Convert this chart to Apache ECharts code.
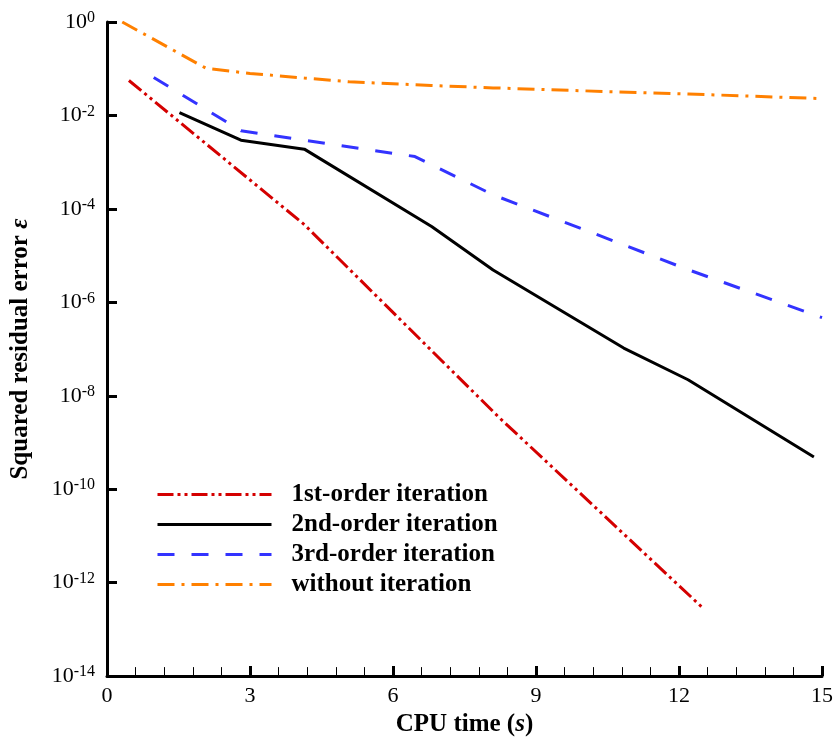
<!DOCTYPE html>
<html>
<head>
<meta charset="utf-8">
<script src="https://cdn.jsdelivr.net/npm/echarts@6/dist/echarts.min.js"></script>
<style>html,body{margin:0;padding:0;background:#fff}#c{width:836px;height:742px}</style>
</head>
<body>
<div id="c"></div>
<script>
// CPU time (s) and squared residual error for each method
const firstOrderX = [0.46, 4.14, 8.23, 12.52];
const firstOrderY = [5.6e-2, 4.6e-5, 3.4e-9, 2.75e-13];

const secondOrderX = [1.52, 2.81, 4.14, 6.81, 8.10, 10.84, 12.19, 14.83];
const secondOrderY = [1.15e-2, 2.95e-3, 1.9e-3, 4.2e-5, 4.9e-6, 1.05e-7, 2.2e-8, 4.9e-10];

const thirdOrderX = [0.98, 2.81, 4.14, 6.46, 8.10, 10.84, 12.19, 15.0];
const thirdOrderY = [6.5e-2, 4.7e-3, 2.95e-3, 1.32e-3, 2.0e-4, 1.7e-5, 5.0e-6, 4.7e-7];

const noIterX = [0.32, 2.08, 3.0, 4.14, 5.08, 6.8, 8.1, 10.5, 12.2, 15.0];
const noIterY = [1.0, 0.102, 0.0794, 0.0631, 0.0525, 0.0437, 0.0389, 0.0324, 0.0288, 0.0229];

const seriesNames = ['1st-order iteration', '2nd-order iteration', '3rd-order iteration', 'without iteration'];
const xTicks = [0, 3, 6, 9, 12, 15];
const yExponents = [0, -2, -4, -6, -8, -10, -12, -14];

const FONT = 'Liberation Serif';
const pair = (xs, ys) => xs.map((x, i) => [x, ys[i]]);

const chart = echarts.init(document.getElementById('c'), null, {renderer: 'canvas'});
chart.setOption({
  animation: false,
  backgroundColor: '#fff',
  grid: {left: 103, top: 22, width: 719, height: 655, containLabel: false},
  legend: {
    orient: 'vertical',
    left: 156, top: 482, padding: 0,
    itemWidth: 114, itemHeight: 14, itemGap: 5,
    data: seriesNames,
    itemStyle: {opacity: 0},
    lineStyle: {width: 3},
    textStyle: {fontFamily: FONT, fontSize: 25, fontWeight: 'bold', color: '#000', padding: [0, 0, 0, 15]}
  },
  xAxis: {
    type: 'value', min: xTicks[0], max: xTicks[xTicks.length - 1], interval: 3,
    name: 'CPU time ({i|s})', nameLocation: 'middle', nameGap: 32,
    nameTextStyle: {fontFamily: FONT, fontSize: 25, fontWeight: 'bold', color: '#000',
      rich: {i: {fontFamily: FONT, fontSize: 25, fontWeight: 'bold', fontStyle: 'italic', color: '#000'}}},
    axisLine: {show: true, lineStyle: {color: '#000', width: 3}},
    axisTick: {show: true, inside: true, length: 10, lineStyle: {color: '#000', width: 3}},
    minorTick: {show: true, splitNumber: 5, length: 9, lineStyle: {color: '#000', width: 1}},
    splitLine: {show: false},
    axisLabel: {fontFamily: FONT, fontSize: 22, color: '#000', margin: 9}
  },
  yAxis: {
    type: 'log', logBase: 10, min: 1e-14, max: 1, interval: 2,
    name: 'Squared residual error {i|ε}', nameLocation: 'middle', nameGap: 74, nameRotate: 90,
    nameTextStyle: {fontFamily: FONT, fontSize: 25, fontWeight: 'bold', color: '#000',
      rich: {i: {fontFamily: FONT, fontSize: 25, fontWeight: 'bold', fontStyle: 'italic', color: '#000'}}},
    axisLine: {show: true, lineStyle: {color: '#000', width: 3}},
    axisTick: {show: true, inside: true, length: 10, lineStyle: {color: '#000', width: 3}},
    minorTick: {show: false},
    splitLine: {show: false},
    axisLabel: {
      margin: 12,
      formatter: v => '{b|10}{s|' + Math.round(Math.log10(v)) + '}',
      rich: {
        b: {fontFamily: FONT, fontSize: 22, color: '#000', lineHeight: 24},
        s: {fontFamily: FONT, fontSize: 16, color: '#000', verticalAlign: 'top', lineHeight: 24, padding: [0, 0, 10, 0]}
      }
    }
  },
  series: [
    {name: seriesNames[3], type: 'line', symbol: 'none', data: pair(noIterX, noIterY),
      lineStyle: {color: '#ff8000', width: 3, type: [17, 7, 3, 7], cap: 'butt'}, itemStyle: {color: '#ff8000'}},
    {name: seriesNames[2], type: 'line', symbol: 'none', data: pair(thirdOrderX, thirdOrderY),
      lineStyle: {color: '#3333ff', width: 3, type: [17, 17], cap: 'butt'}, itemStyle: {color: '#3333ff'}},
    {name: seriesNames[1], type: 'line', symbol: 'none', data: pair(secondOrderX, secondOrderY),
      lineStyle: {color: '#000', width: 3, type: 'solid'}, itemStyle: {color: '#000'}},
    {name: seriesNames[0], type: 'line', symbol: 'none', data: pair(firstOrderX, firstOrderY),
      lineStyle: {color: '#d40000', width: 3, type: [16, 4, 3, 4, 3, 4], cap: 'butt'}, itemStyle: {color: '#d40000'}}
  ]
});
</script>
</body>
</html>
